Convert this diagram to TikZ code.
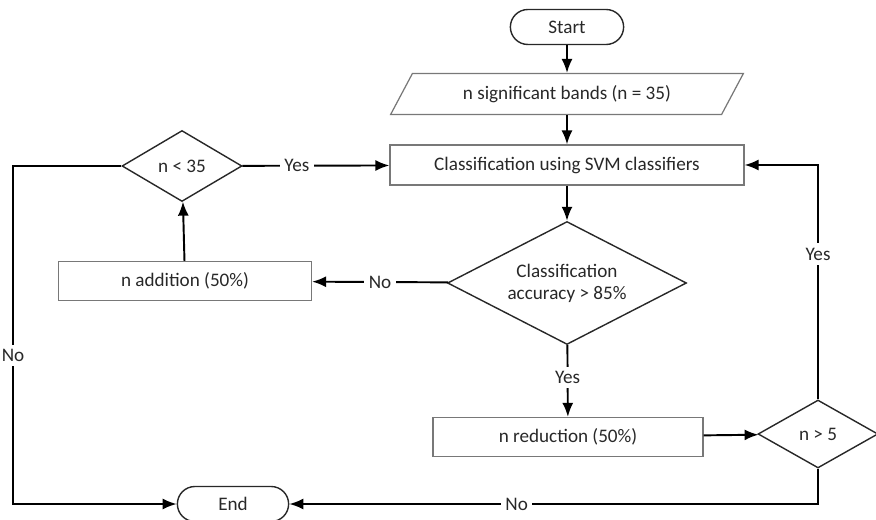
\documentclass[tikz,border=0pt]{standalone}
\usepackage{fontspec}
\setmainfont{Carlito}
\usepackage{tikz}
\usetikzlibrary{shapes.geometric,shapes.misc,arrows.meta}

\definecolor{boxgray}{RGB}{120,120,120}
\definecolor{inkgray}{RGB}{40,40,40}

\begin{document}
\begin{tikzpicture}[x=0.02cm, y=-0.02cm, font=\fontsize{10.9}{12.5}\selectfont, text=inkgray,
box_style/.style={rectangle,draw=boxgray,line width=0.7pt,fill=white},
term_style/.style={rounded rectangle,draw=inkgray,line width=0.8pt,fill=white,minimum width=2.5cm,minimum height=0.7cm},
io_style/.style={trapezium,trapezium left angle=62,trapezium right angle=118,draw=boxgray,line width=0.7pt,fill=white},
dec_style/.style={diamond,aspect=2,draw=inkgray,line width=0.8pt,fill=white,inner sep=0pt},
edge_style/.style={draw=black,line width=1.1pt,-{Latex[length=0.28cm,width=0.22cm]}},
lbl_style/.style={fill=white,inner sep=2.5pt}]
\useasboundingbox (0,0) rectangle (876,520);

\node[term_style] (start) at (567,27) {Start};
\node[io_style, minimum width=7.06cm, minimum height=0.8cm] (bands) at (567,94) {n significant bands (n = 35)};
\node[box_style, minimum width=7.08cm, minimum height=0.8cm] (classify) at (567,165) {Classification using SVM classifiers};
\node[dec_style, minimum width=4.78cm, minimum height=2.46cm, align=center] (accuracy) at (567,283) {Classification\\accuracy > 85\%};
\node[box_style, minimum width=5.4cm, minimum height=0.78cm] (reduction) at (568,437) {n reduction (50\%)};
\node[dec_style, minimum width=2.4cm, minimum height=1.36cm] (ngt5) at (818,434) {n > 5};
\node[box_style, minimum width=5.06cm, minimum height=0.78cm] (addition) at (185,281) {n addition (50\%)};
\node[dec_style, minimum width=2.4cm, minimum height=1.42cm] (nlt35) at (182,166) {n < 35};
\node[term_style, minimum width=2.46cm] (end) at (233,504) {End};
\coordinate (leftrail) at (13,504);

\draw[edge_style] (start) -- (bands);
\draw[edge_style] (bands) -- (classify);
\draw[edge_style] (classify) -- (accuracy);
\draw[edge_style] (accuracy) -- node[lbl_style, pos=0.45]{Yes} (reduction);
\draw[edge_style] (accuracy) -- node[lbl_style]{No} (addition);
\draw[edge_style] (addition) -- (nlt35);
\draw[edge_style] (nlt35) -- node[lbl_style, pos=0.37]{Yes} (classify);
\draw[edge_style] (reduction) -- (ngt5);
\draw[edge_style] (ngt5.north) |- node[lbl_style, pos=0.31]{Yes} (classify.east);
\draw[edge_style] (ngt5.south) |- node[lbl_style, pos=0.785]{No} (end.east);
\draw[edge_style] (nlt35.west) -| node[lbl_style, pos=0.78]{No} (leftrail) -- (end.west);

\end{tikzpicture}
\end{document}
